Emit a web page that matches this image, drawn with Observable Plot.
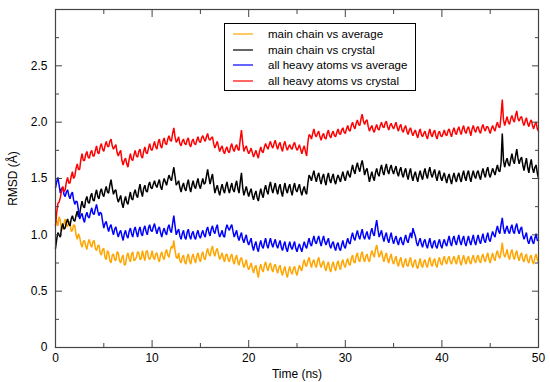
<!DOCTYPE html>
<html><head><meta charset="utf-8">
<script src="https://cdn.jsdelivr.net/npm/d3@7"></script>
<script src="https://cdn.jsdelivr.net/npm/@observablehq/plot@0.6"></script>
<style>
body{margin:0;background:#fff;}
#wrap{position:relative;width:550px;height:382px;font-family:"Liberation Sans",Arial,sans-serif;}
#legend{position:absolute;left:224px;top:23px;width:192px;height:68px;border:1.5px solid #000;background:#fff;box-sizing:border-box;}
.row{position:absolute;left:0;height:14px;font-size:11.5px;line-height:14px;color:#000;white-space:nowrap;}
.sw{position:absolute;left:8px;top:6px;width:20px;height:2px;opacity:0.6;}
.lb{position:absolute;left:43px;top:0;}
</style></head>
<body><div id="wrap"></div>
<script>
const seriesNames = ["main chain vs average","main chain vs crystal","all heavy atoms vs average","all heavy atoms vs crystal"];
const seriesColors = ["#FFA500","#000000","#0000FF","#FF0000"];
const timeStep = 0.25; // ns between samples of the "A" arrays; "B" arrays sit half a step later
const xMajor = [0,10,20,30,40,50];
const xMinor = [5,15,25,35,45];
const yMajor = [0,0.5,1.0,1.5,2.0,2.5];
const yMinor = [0.25,0.75,1.25,1.75,2.25,2.75];

// main chain vs average
const mainAvgA = [
1.18,1.08,1.13,1.06,1.14,1.07,1.11,1.04,1.08,0.96,0.98,0.89,0.95,0.87,0.96,0.89,0.95,0.86,0.91,0.82,
0.88,0.78,0.84,0.75,0.83,0.77,0.84,0.75,0.82,0.74,0.84,0.76,0.85,0.78,0.85,0.78,0.86,0.77,0.86,0.78,
0.86,0.78,0.84,0.76,0.85,0.78,0.87,0.80,0.90,0.95,0.80,0.84,0.75,0.82,0.74,0.83,0.74,0.83,0.75,0.84,
0.76,0.85,0.78,0.88,0.81,0.90,0.81,0.88,0.78,0.84,0.76,0.83,0.76,0.83,0.74,0.82,0.73,0.80,0.71,0.78,
0.69,0.75,0.66,0.73,0.62,0.74,0.67,0.76,0.68,0.75,0.67,0.74,0.66,0.73,0.64,0.72,0.62,0.72,0.65,0.72,
0.64,0.73,0.68,0.78,0.72,0.80,0.71,0.78,0.71,0.80,0.71,0.77,0.68,0.76,0.67,0.76,0.68,0.77,0.69,0.78,
0.71,0.79,0.73,0.82,0.75,0.84,0.76,0.85,0.76,0.83,0.76,0.86,0.80,0.91,0.80,0.86,0.76,0.84,0.75,0.83,
0.74,0.81,0.72,0.80,0.71,0.79,0.72,0.80,0.71,0.78,0.70,0.79,0.71,0.78,0.71,0.80,0.72,0.79,0.71,0.80,
0.73,0.81,0.74,0.81,0.74,0.81,0.74,0.82,0.73,0.82,0.74,0.81,0.74,0.82,0.75,0.82,0.75,0.83,0.76,0.84,
0.75,0.84,0.77,0.86,0.79,0.93,0.80,0.87,0.78,0.87,0.78,0.86,0.77,0.84,0.76,0.83,0.75,0.82,0.74,0.83,
0.76];
const mainAvgB = [
1.12,1.16,1.04,1.10,1.09,1.12,1.03,1.09,1.00,1.01,0.92,0.94,0.90,0.93,0.91,0.94,0.88,0.90,0.84,0.87,
0.80,0.86,0.77,0.82,0.78,0.85,0.77,0.80,0.73,0.81,0.79,0.83,0.77,0.80,0.84,0.79,0.81,0.85,0.80,0.81,
0.80,0.83,0.79,0.82,0.80,0.84,0.82,0.86,0.88,0.86,0.79,0.77,0.80,0.76,0.80,0.77,0.80,0.78,0.81,0.79,
0.82,0.79,0.84,0.83,0.87,0.84,0.86,0.82,0.81,0.79,0.82,0.78,0.81,0.77,0.79,0.76,0.78,0.75,0.74,0.72,
0.72,0.70,0.71,0.67,0.70,0.69,0.73,0.71,0.73,0.70,0.72,0.69,0.71,0.67,0.69,0.66,0.68,0.67,0.70,0.67,
0.69,0.70,0.74,0.73,0.77,0.75,0.76,0.73,0.77,0.74,0.75,0.71,0.73,0.70,0.73,0.71,0.74,0.72,0.75,0.73,
0.76,0.74,0.79,0.76,0.81,0.78,0.82,0.79,0.81,0.78,0.82,0.83,0.87,0.85,0.83,0.80,0.81,0.78,0.80,0.77,
0.78,0.75,0.77,0.74,0.76,0.73,0.77,0.74,0.76,0.72,0.75,0.73,0.76,0.73,0.77,0.74,0.77,0.73,0.77,0.75,
0.78,0.76,0.79,0.76,0.78,0.77,0.79,0.76,0.78,0.77,0.79,0.76,0.79,0.77,0.80,0.77,0.80,0.78,0.81,0.78,
0.80,0.79,0.83,0.81,0.85,0.84,0.83,0.81,0.84,0.81,0.83,0.80,0.82,0.78,0.81,0.77,0.80,0.76,0.80,0.78];

// main chain vs crystal
const mainCryA = [
0.88,1.02,0.98,1.10,1.06,1.14,1.08,1.17,1.12,1.21,1.18,1.30,1.24,1.34,1.28,1.37,1.30,1.40,1.32,1.41,
1.34,1.43,1.37,1.49,1.36,1.40,1.29,1.35,1.24,1.34,1.27,1.38,1.31,1.40,1.33,1.45,1.34,1.44,1.38,1.47,
1.41,1.48,1.42,1.49,1.40,1.50,1.44,1.53,1.48,1.60,1.44,1.48,1.38,1.46,1.39,1.49,1.38,1.48,1.41,1.50,
1.41,1.50,1.46,1.58,1.45,1.54,1.37,1.44,1.35,1.45,1.37,1.47,1.37,1.46,1.38,1.48,1.37,1.55,1.35,1.43,
1.34,1.41,1.31,1.39,1.30,1.41,1.33,1.44,1.36,1.47,1.37,1.46,1.36,1.45,1.34,1.46,1.37,1.45,1.35,1.46,
1.38,1.45,1.35,1.43,1.36,1.53,1.48,1.57,1.47,1.55,1.45,1.54,1.44,1.55,1.46,1.54,1.45,1.53,1.47,1.56,
1.48,1.57,1.51,1.62,1.54,1.64,1.56,1.66,1.53,1.59,1.47,1.56,1.48,1.59,1.52,1.62,1.53,1.63,1.54,1.62,
1.54,1.61,1.52,1.60,1.51,1.59,1.49,1.59,1.48,1.56,1.47,1.57,1.49,1.59,1.50,1.60,1.51,1.58,1.48,1.57,
1.48,1.55,1.46,1.54,1.45,1.55,1.47,1.55,1.47,1.57,1.48,1.57,1.47,1.57,1.50,1.57,1.49,1.59,1.51,1.60,
1.51,1.59,1.53,1.62,1.56,1.90,1.60,1.68,1.61,1.72,1.63,1.76,1.63,1.69,1.57,1.68,1.55,1.67,1.55,1.62,
1.50];
const mainCryB = [
0.96,1.00,1.06,1.05,1.11,1.10,1.14,1.13,1.17,1.16,1.25,1.25,1.31,1.29,1.34,1.31,1.36,1.34,1.38,1.36,
1.39,1.38,1.44,1.42,1.39,1.33,1.32,1.28,1.30,1.29,1.33,1.32,1.37,1.35,1.40,1.38,1.41,1.39,1.44,1.42,
1.45,1.44,1.46,1.43,1.46,1.47,1.49,1.50,1.54,1.52,1.46,1.42,1.43,1.41,1.45,1.42,1.44,1.43,1.46,1.44,
1.46,1.45,1.52,1.51,1.50,1.45,1.41,1.39,1.41,1.40,1.43,1.41,1.42,1.40,1.44,1.41,1.47,1.42,1.39,1.38,
1.38,1.35,1.36,1.33,1.36,1.36,1.40,1.39,1.43,1.41,1.42,1.40,1.42,1.38,1.41,1.40,1.42,1.39,1.42,1.40,
1.42,1.39,1.40,1.38,1.46,1.51,1.53,1.51,1.52,1.49,1.51,1.48,1.51,1.49,1.51,1.48,1.50,1.50,1.52,1.51,
1.53,1.53,1.57,1.57,1.60,1.59,1.62,1.60,1.57,1.53,1.52,1.51,1.55,1.54,1.58,1.56,1.59,1.57,1.59,1.57,
1.58,1.55,1.57,1.54,1.56,1.53,1.55,1.52,1.53,1.51,1.53,1.52,1.55,1.53,1.56,1.54,1.55,1.52,1.54,1.51,
1.52,1.50,1.51,1.49,1.51,1.50,1.52,1.50,1.53,1.51,1.54,1.51,1.53,1.52,1.55,1.52,1.55,1.54,1.57,1.54,
1.55,1.56,1.58,1.57,1.64,1.66,1.65,1.63,1.67,1.66,1.70,1.68,1.67,1.62,1.63,1.60,1.62,1.59,1.60,1.55];

// all heavy atoms vs average
const heavyAvgA = [
1.42,1.51,1.37,1.42,1.34,1.40,1.32,1.38,1.27,1.29,1.14,1.19,1.11,1.20,1.15,1.24,1.18,1.27,1.17,1.19,
1.06,1.12,1.03,1.09,1.00,1.07,0.98,1.04,0.95,1.04,0.97,1.06,0.98,1.07,0.98,1.07,0.99,1.08,1.00,1.09,
1.03,1.10,1.01,1.07,0.98,1.06,1.00,1.09,1.02,1.17,1.00,1.05,0.96,1.04,0.96,1.05,0.96,1.03,0.96,1.04,
0.97,1.04,0.98,1.07,0.99,1.08,1.01,1.09,0.98,1.04,0.98,1.09,1.04,1.09,0.98,1.04,0.95,1.02,0.93,1.00,
0.91,0.97,0.86,0.94,0.85,0.95,0.88,0.97,0.88,0.97,0.89,0.96,0.88,0.95,0.86,0.94,0.85,0.94,0.87,0.94,
0.85,0.92,0.85,0.94,0.88,0.97,0.90,0.99,0.92,0.99,0.90,0.99,0.91,0.97,0.88,0.94,0.86,0.93,0.86,0.95,
0.88,0.97,0.92,1.02,0.95,1.04,0.96,1.05,0.96,1.03,0.96,1.06,0.99,1.13,0.98,1.04,0.94,1.02,0.93,1.02,
0.92,0.99,0.91,0.98,0.91,1.00,0.93,1.02,1.06,0.99,0.90,0.97,0.89,0.96,0.88,0.97,0.88,0.95,0.88,0.96,
0.88,0.96,0.90,0.99,0.90,0.99,0.91,1.00,0.91,0.99,0.90,0.99,0.91,1.00,0.91,1.00,0.92,1.01,0.93,1.02,
0.94,1.03,0.98,1.08,1.01,1.15,1.01,1.08,1.01,1.09,1.01,1.10,1.01,1.07,0.96,1.02,0.92,0.99,0.92,1.01,
0.95];
const heavyAvgB = [
1.47,1.44,1.41,1.36,1.38,1.35,1.36,1.31,1.30,1.22,1.17,1.14,1.17,1.16,1.20,1.19,1.23,1.21,1.20,1.12,
1.10,1.07,1.07,1.04,1.05,1.02,1.02,0.99,1.01,0.99,1.03,1.01,1.04,1.02,1.04,1.01,1.05,1.03,1.06,1.04,
1.07,1.05,1.05,1.02,1.03,1.02,1.06,1.04,1.10,1.08,1.03,0.99,1.01,0.98,1.02,0.99,1.01,0.98,1.01,0.99,
1.01,1.00,1.04,1.02,1.05,1.03,1.06,1.02,1.01,0.99,1.05,1.06,1.07,1.03,1.01,0.98,0.99,0.96,0.97,0.94,
0.94,0.90,0.91,0.88,0.91,0.90,0.93,0.91,0.93,0.92,0.93,0.91,0.92,0.89,0.91,0.88,0.90,0.89,0.91,0.88,
0.89,0.88,0.90,0.90,0.93,0.92,0.95,0.94,0.96,0.94,0.95,0.94,0.94,0.91,0.92,0.89,0.91,0.88,0.91,0.90,
0.93,0.93,0.98,0.97,1.00,0.99,1.01,0.99,1.00,0.98,1.02,1.01,1.07,1.05,1.01,0.98,0.99,0.96,0.98,0.96,
0.96,0.94,0.96,0.93,0.96,0.95,0.98,0.97,1.02,0.93,0.94,0.92,0.94,0.91,0.93,0.91,0.93,0.90,0.93,0.91,
0.93,0.92,0.95,0.93,0.96,0.94,0.96,0.94,0.96,0.93,0.95,0.94,0.96,0.94,0.96,0.95,0.97,0.95,0.98,0.96,
0.99,1.00,1.04,1.03,1.09,1.06,1.05,1.03,1.06,1.03,1.07,1.04,1.05,1.00,0.99,0.95,0.96,0.94,0.97,0.95];

// all heavy atoms vs crystal
const heavyCryA = [
1.08,1.28,1.33,1.43,1.40,1.51,1.46,1.56,1.52,1.63,1.58,1.72,1.66,1.74,1.68,1.75,1.70,1.79,1.72,1.81,
1.74,1.83,1.78,1.85,1.76,1.80,1.70,1.75,1.62,1.68,1.60,1.72,1.66,1.75,1.69,1.76,1.68,1.78,1.72,1.81,
1.75,1.83,1.76,1.85,1.77,1.86,1.80,1.88,1.83,1.95,1.82,1.87,1.79,1.85,1.80,1.86,1.78,1.85,1.80,1.87,
1.82,1.88,1.83,1.90,1.84,1.87,1.77,1.83,1.74,1.79,1.72,1.78,1.73,1.81,1.74,1.80,1.75,1.93,1.74,1.79,
1.72,1.77,1.69,1.75,1.68,1.78,1.73,1.81,1.76,1.83,1.77,1.84,1.76,1.82,1.74,1.83,1.75,1.80,1.76,1.82,
1.75,1.80,1.72,1.79,1.70,1.89,1.85,1.94,1.87,1.92,1.84,1.90,1.85,1.93,1.86,1.92,1.87,1.94,1.89,1.95,
1.90,1.97,1.92,2.00,1.94,2.02,1.97,2.07,1.98,2.02,1.92,1.97,1.91,1.98,1.93,2.00,1.95,2.01,1.93,1.99,
1.94,2.00,1.92,1.98,1.91,1.97,1.89,1.95,1.88,1.93,1.86,1.94,1.87,1.92,1.85,1.94,1.87,1.93,1.85,1.92,
1.87,1.93,1.88,1.94,1.87,1.95,1.89,1.96,1.89,1.97,1.90,1.96,1.88,1.97,1.91,1.96,1.90,1.98,1.92,1.96,
1.90,1.97,1.92,2.00,1.95,2.20,1.97,2.05,1.98,2.06,2.00,2.10,2.01,2.05,1.97,2.04,1.96,2.02,1.94,2.00,
1.92];
const heavyCryB = [
1.20,1.29,1.39,1.38,1.47,1.46,1.52,1.50,1.59,1.58,1.67,1.66,1.71,1.69,1.73,1.70,1.75,1.73,1.78,1.76,
1.79,1.79,1.83,1.79,1.78,1.73,1.73,1.66,1.66,1.63,1.67,1.67,1.71,1.70,1.74,1.70,1.74,1.73,1.77,1.76,
1.79,1.78,1.82,1.79,1.83,1.81,1.85,1.84,1.90,1.87,1.84,1.81,1.83,1.81,1.84,1.80,1.83,1.81,1.84,1.83,
1.86,1.85,1.87,1.85,1.86,1.81,1.80,1.78,1.77,1.74,1.76,1.74,1.78,1.76,1.78,1.76,1.85,1.82,1.77,1.75,
1.74,1.73,1.72,1.71,1.74,1.74,1.78,1.78,1.80,1.79,1.81,1.79,1.80,1.77,1.80,1.78,1.78,1.77,1.80,1.78,
1.77,1.76,1.76,1.74,1.82,1.88,1.90,1.89,1.90,1.87,1.88,1.86,1.90,1.88,1.90,1.88,1.91,1.90,1.93,1.91,
1.94,1.93,1.97,1.96,1.99,1.98,2.03,2.01,2.01,1.96,1.95,1.93,1.95,1.94,1.97,1.96,1.99,1.96,1.97,1.96,
1.97,1.95,1.96,1.93,1.95,1.92,1.93,1.91,1.91,1.89,1.91,1.89,1.90,1.88,1.90,1.89,1.91,1.88,1.90,1.88,
1.90,1.89,1.92,1.90,1.92,1.91,1.93,1.92,1.94,1.92,1.94,1.92,1.94,1.93,1.95,1.92,1.95,1.94,1.96,1.93,
1.94,1.94,1.97,1.96,2.06,2.02,2.01,2.00,2.03,2.02,2.06,2.03,2.04,2.00,2.01,1.99,2.00,1.97,1.98,1.94];

const seriesA = [mainAvgA, mainCryA, heavyAvgA, heavyCryA];
const seriesB = [mainAvgB, mainCryB, heavyAvgB, heavyCryB];

const rows = [];
seriesA.forEach((a, s) => {
  const b = seriesB[s];
  a.forEach((v, i) => {
    rows.push({series: seriesNames[s], time: i * timeStep, rmsd: v});
    if (i < b.length) rows.push({series: seriesNames[s], time: i * timeStep + timeStep / 2, rmsd: b[i]});
  });
});

const font = '"Liberation Sans", Arial, sans-serif';
const axisStroke = "#444";
const yFmt = d => d === 0 ? "0" : d.toFixed(1);

const marks = [
  ...seriesNames.map((name, s) => Plot.line(rows.filter(r => r.series === name), {x: "time", y: "rmsd", stroke: seriesColors[s], strokeWidth: 1.5, strokeLinejoin: "miter"})),
  Plot.frame({stroke: axisStroke, strokeWidth: 1.2}),
  Plot.axisX(xMajor, {anchor: "bottom", tickSize: -7, tickFormat: () => "", stroke: axisStroke, label: null}),
  Plot.axisX(xMinor, {anchor: "bottom", tickSize: -4, tickFormat: () => "", stroke: axisStroke, label: null}),
  Plot.axisX(xMajor, {anchor: "top", tickSize: -7, tickFormat: () => "", stroke: axisStroke, label: null}),
  Plot.axisX(xMinor, {anchor: "top", tickSize: -4, tickFormat: () => "", stroke: axisStroke, label: null}),
  Plot.axisY(yMajor, {anchor: "left", tickSize: -7, tickFormat: () => "", stroke: axisStroke, label: null}),
  Plot.axisY(yMinor, {anchor: "left", tickSize: -4, tickFormat: () => "", stroke: axisStroke, label: null}),
  Plot.axisY(yMajor, {anchor: "right", tickSize: -7, tickFormat: () => "", stroke: axisStroke, label: null}),
  Plot.axisY(yMinor, {anchor: "right", tickSize: -4, tickFormat: () => "", stroke: axisStroke, label: null}),
  Plot.axisX(xMajor, {anchor: "bottom", tickSize: 0, tickPadding: 6, fontSize: 12, fill: "#000", label: "Time (ns)", labelAnchor: "center", labelArrow: "none", labelOffset: 30}),
  Plot.axisY(yMajor, {anchor: "left", tickSize: 0, tickPadding: 8, tickFormat: yFmt, fontSize: 12, fill: "#000", label: "RMSD (Å)", labelAnchor: "center", labelArrow: "none", labelOffset: 47})
];

const chart = Plot.plot({
  width: 550, height: 382,
  marginLeft: 55, marginRight: 12, marginTop: 9, marginBottom: 35,
  style: {fontFamily: font, fontSize: "12px", background: "#fff", color: "#000"},
  x: {domain: [0, 50]},
  y: {domain: [0, 3]},
  marks
});
const wrap = document.getElementById("wrap");
wrap.appendChild(chart);

const legend = document.createElement("div");
legend.id = "legend";
seriesNames.forEach((name, s) => {
  const row = document.createElement("div");
  row.className = "row";
  row.style.top = Math.round(3 + s * 15.5) + "px";
  row.style.width = "100%";
  const sw = document.createElement("div");
  sw.className = "sw";
  sw.style.background = seriesColors[s];
  const lb = document.createElement("div");
  lb.className = "lb";
  lb.textContent = name;
  row.appendChild(sw); row.appendChild(lb);
  legend.appendChild(row);
});
wrap.appendChild(legend);
</script></body></html>
